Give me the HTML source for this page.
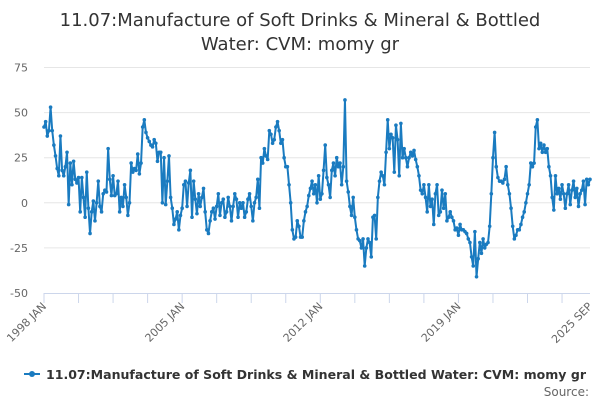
<!DOCTYPE html>
<html><head><meta charset="utf-8"><style>
body{margin:0;background:#fff;font-family:"DejaVu Sans","Liberation Sans",sans-serif;}
svg{display:block}
</style></head><body>
<svg id="chart" width="600" height="400" font-family="DejaVu Sans, Liberation Sans, sans-serif">
<text x="300" y="26" text-anchor="middle" font-size="18" fill="#333">11.07:Manufacture of Soft Drinks &amp; Mineral &amp; Bottled</text>
<text x="300" y="50" text-anchor="middle" font-size="18" fill="#333">Water: CVM: momy gr</text>
<g id="grid"></g>
<g id="yaxis"></g>
<g id="xaxis"></g>
<g id="series"></g>
<g>
<line x1="24" y1="374" x2="40" y2="374" stroke="#1a7bc0" stroke-width="2"/>
<circle cx="32" cy="374" r="3" fill="#1a7bc0"/>
<text x="46" y="379" font-size="12.5" font-weight="bold" fill="#333" textLength="540" lengthAdjust="spacingAndGlyphs">11.07:Manufacture of Soft Drinks &amp; Mineral &amp; Bottled Water: CVM: momy gr</text>
</g>
<text x="589" y="396" text-anchor="end" font-size="12" fill="#666">Source:</text>
</svg>
<script>
const yTicks=[75,50,25,0,-25,-50];
const xTickLabels=["1998 JAN","2005 JAN","2012 JAN","2019 JAN","2025 SEP"];
const xLabelMonths=[0,84,168,252,332];
const values=[
42,45,37,40,53,40,32,26,19,15,37,18,
15,20,28,-1,22,10,23,13,11,14,-5,14,
3,-8,17,-3,-17,-5,1,-10,0,12,-2,-5,
5,7,6,30,13,4,15,4,5,12,-5,3,
-2,10,3,-7,0,22,17,19,18,27,16,22,
42,46,39,36,34,32,31,35,33,23,28,28,
0,25,-1,12,26,3,-3,-12,-9,-5,-15,-7,
-3,10,12,-2,11,18,-8,12,2,-6,5,-2,
3,8,-5,-15,-17,-10,-5,-3,-9,-2,5,-7,
0,2,-8,-5,3,-2,-10,-2,5,2,-8,0,
-3,0,-8,-5,2,5,-2,-10,0,3,13,-3,
25,22,30,26,24,40,38,33,35,42,45,40,
33,35,25,20,20,10,0,-15,-20,-19,-10,-13,
-19,-19,-10,-5,-2,4,8,12,5,10,0,15,
2,5,18,32,14,10,3,18,22,15,25,20,
22,10,20,57,12,6,-2,-7,3,-8,-15,-20,
-21,-25,-20,-35,-25,-20,-22,-30,-8,-7,-20,3,
12,17,15,10,28,46,30,38,36,17,43,35,
15,44,25,30,25,20,25,28,26,29,24,20,
15,7,5,10,3,-5,10,-2,2,-12,5,10,
-7,-5,7,-3,5,-10,-8,-5,-8,-10,-15,-14,
-18,-12,-15,-15,-16,-17,-20,-22,-30,-35,-16,-41,
-31,-22,-28,-20,-25,-23,-22,-13,5,25,39,20,
14,12,12,11,13,20,10,5,-3,-13,-20,-18,
-15,-15,-12,-8,-5,0,5,10,22,20,22,42,
46,30,33,28,32,28,30,20,15,3,-4,15,
5,8,2,10,5,-3,5,10,-1,7,12,3,
8,-2,5,7,12,-1,13,10,13];
const NS="http://www.w3.org/2000/svg";
const X0=44,X1=590,Y0=67.5,Y1=293;
function xs(m){return X0+(X1-X0)*m/(values.length-1);}
function ys(v){return Y0+(75-v)*(Y1-Y0)/125;}
function mk(t,a,p){const e=document.createElementNS(NS,t);for(const k in a)e.setAttribute(k,a[k]);p.appendChild(e);return e;}
const grid=document.getElementById('grid'),ya=document.getElementById('yaxis'),xa=document.getElementById('xaxis'),se=document.getElementById('series');
yTicks.forEach(v=>{
  if(v!==-50){const l=mk('line',{x1:X0,x2:X1,y1:ys(v),y2:ys(v),stroke:'#e6e6e6','stroke-width':1},grid);
  
  }
  const t=mk('text',{x:28,y:ys(v)+4,'text-anchor':'end','font-size':11,fill:'#666'},ya);
  t.textContent=v;
  
  
});
const ax=mk('line',{x1:X0,x2:X1,y1:Y1+0.5,y2:Y1+0.5,stroke:'#ccd6eb','stroke-width':1},xa);


for(let m=0;m<=values.length;m+=21){
  let mm=Math.min(m,values.length-1);
  const tk=mk('line',{x1:xs(mm),x2:xs(mm),y1:Y1,y2:Y1+10,stroke:'#ccd6eb'},xa);
  
  
}
xTickLabels.forEach((s,i)=>{
  const x=xs(xLabelMonths[i]);
  const t=mk('text',{x:x+3,y:Y1+14,'text-anchor':'end','font-size':11,fill:'#666',transform:`rotate(-45 ${x+3} ${Y1+14})`},xa);
  t.textContent=s;
  
  
});
const pl=mk('polyline',{points:values.map((v,i)=>xs(i)+','+ys(v)).join(' '),fill:'none',stroke:'#1a7bc0','stroke-width':2,'stroke-linejoin':'round'},se);


values.forEach((v,i)=>{
  const c=mk('circle',{cx:xs(i),cy:ys(v),r:1.8,fill:'#1a7bc0'},se);
  
  
});
</script>
</body></html>
